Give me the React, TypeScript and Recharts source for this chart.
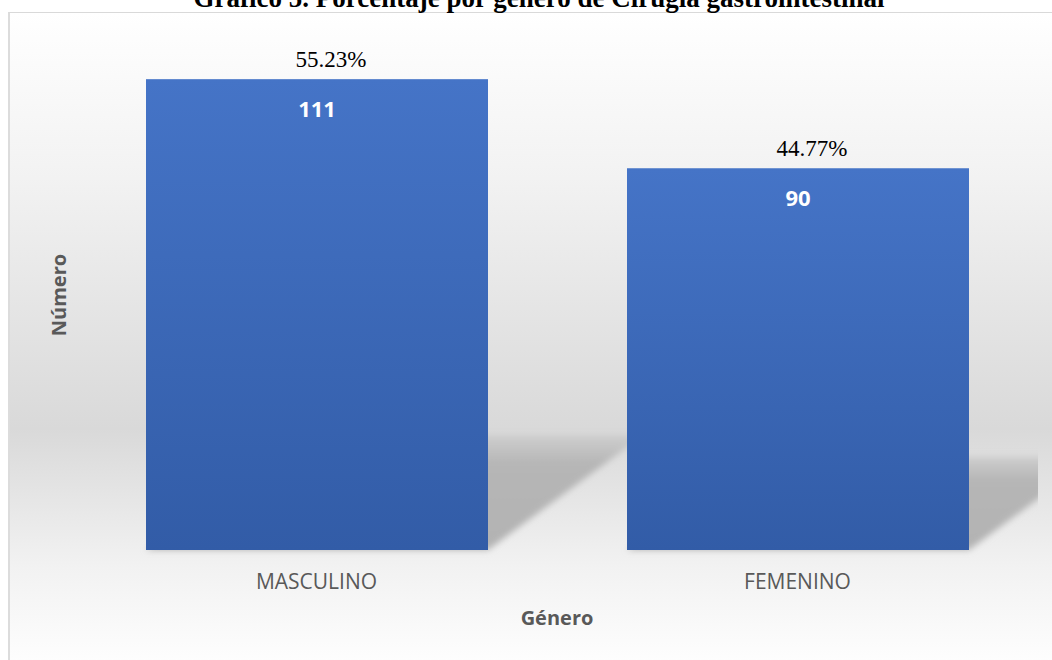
import React from "react";
import { BarChart, Bar, XAxis, YAxis, LabelList } from "recharts";

const categories = ["MASCULINO", "FEMENINO"];
const counts = [111, 90];
const percents = ["55.23%", "44.77%"];

const data = categories.map((genero, i) => ({
  genero,
  numero: counts[i],
  pct: percents[i],
}));

const W = 1052;
const H = 660;
const margin = { top: 41, right: 14, bottom: 10, left: 6 };
const PLOT_RIGHT = W - margin.right;

// bar with a perspective "floor" shadow behind it, like the office chart style
const ShadowBar = (props: any) => {
  const { x, y, width, height } = props;
  const bottom = y + height;
  const sTop = bottom - height * 0.245;
  const dx = (bottom - sTop) / 0.74;
  const pts = [
    [x, bottom],
    [x + width, bottom],
    [x + width + dx, sTop],
    [x + dx, sTop],
  ]
    .map((p) => p.join(","))
    .join(" ");
  return (
    <g>
      <polygon
        points={pts}
        fill="url(#shadowFill)"
        filter="url(#blurShadow)"
        clipPath="url(#plotClip)"
      />
      <rect x={x} y={y} width={width} height={height} fill="url(#barFill)" />
    </g>
  );
};

const YTitle = (props: any) => {
  const { viewBox } = props;
  const cx = viewBox.x + 60;
  const cy = 295;
  return (
    <text
      x={cx}
      y={cy}
      transform={`rotate(-90 ${cx} ${cy})`}
      textAnchor="middle"
      fontFamily="'Open Sans', sans-serif"
      fontWeight="bold"
      fontSize={20}
      fill="#595959"
    >
      Número
    </text>
  );
};

export default function App() {
  return (
    <div
      style={{
        position: "fixed",
        left: 0,
        top: 0,
        width: W,
        height: H,
        overflow: "hidden",
        background: "#ffffff",
      }}
    >
      <div
        style={{
          position: "absolute",
          left: 8,
          top: 12,
          width: W,
          height: H,
          borderTop: "1px solid #d9d9d9",
          borderLeft: "2px solid #dcdcdc",
          background:
            "linear-gradient(to bottom, #ffffff 0%, #f2f2f2 25%, #d9d9d9 63%, #f2f2f2 84%, #ffffff 100%)",
        }}
      />
      <svg
        width={W}
        height={30}
        style={{ position: "absolute", left: 0, top: 0 }}
      >
        <text
          x={539}
          y={7}
          textAnchor="middle"
          fontFamily="'Liberation Serif', 'Times New Roman', serif"
          fontWeight="bold"
          fontSize={27}
          fill="#000000"
        >
          Gráfico 5. Porcentaje por género de Cirugía gastrointestinal
        </text>
      </svg>
      <div style={{ position: "absolute", left: 0, top: 0 }}>
        <BarChart width={W} height={H} data={data} margin={margin}>
          <defs>
            <linearGradient id="barFill" x1="0" y1="0" x2="0" y2="1">
              <stop offset="0%" stopColor="#4574c7" />
              <stop offset="100%" stopColor="#325ca7" />
            </linearGradient>
            <linearGradient id="shadowFill" x1="0" y1="0" x2="0" y2="1">
              <stop offset="0%" stopColor="#cfcfcf" />
              <stop offset="25%" stopColor="#b6b6b6" />
              <stop offset="100%" stopColor="#b3b3b3" />
            </linearGradient>
            <filter id="blurShadow" x="-20%" y="-20%" width="140%" height="140%">
              <feGaussianBlur stdDeviation="3" />
            </filter>
            <clipPath id="plotClip">
              <rect x={0} y={0} width={PLOT_RIGHT} height={H} />
            </clipPath>
          </defs>
          <XAxis
            dataKey="genero"
            height={100}
            axisLine={false}
            tickLine={false}
            tickSize={0}
            tickMargin={24}
            tick={{
              fill: "#595959",
              fontSize: 21,
              fontFamily: "'Open Sans', sans-serif",
            }}
            label={{
              value: "Género",
              position: "insideBottom",
              offset: 25,
              fill: "#595959",
              fontSize: 20,
              fontWeight: "bold",
              fontFamily: "'Open Sans', sans-serif",
            }}
          />
          <YAxis
            width={70}
            domain={[0, 120]}
            tick={false}
            axisLine={false}
            tickLine={false}
            label={<YTitle />}
          />
          <Bar
            dataKey="numero"
            barSize={342}
            shape={<ShadowBar />}
            isAnimationActive={false}
          >
            <LabelList
              dataKey="numero"
              position="insideTop"
              offset={22}
              fill="#ffffff"
              fontSize={22}
              fontWeight="bold"
              fontFamily="'Open Sans', sans-serif"
            />
            <LabelList
              dataKey="pct"
              position="top"
              offset={12}
              dx={14}
              fill="#000000"
              fontSize={23}
              fontFamily="'Liberation Serif', 'Times New Roman', serif"
            />
          </Bar>
        </BarChart>
      </div>
    </div>
  );
}
